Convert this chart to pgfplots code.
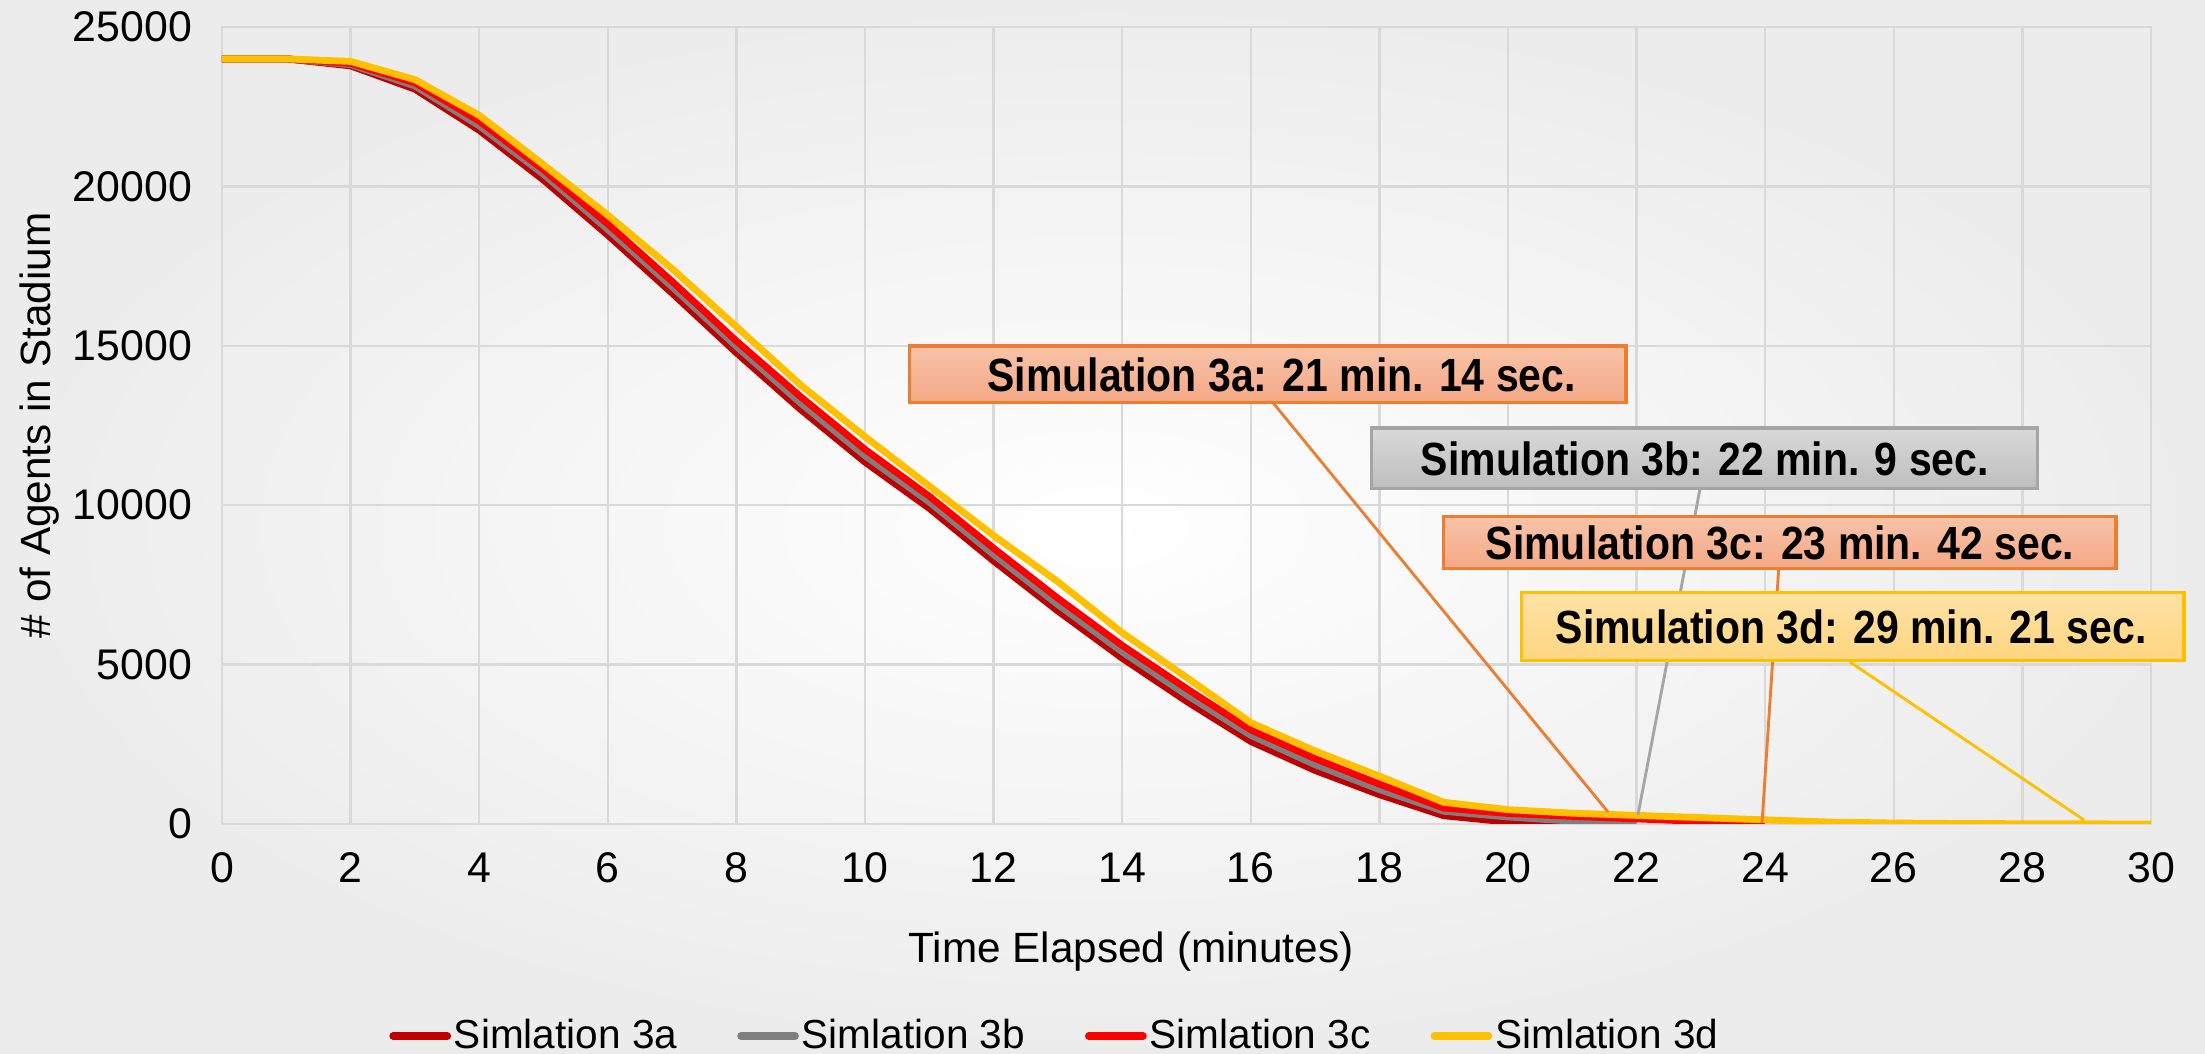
\documentclass[border=0pt]{standalone}
\usepackage{pgfplots}
\pgfplotsset{compat=1.18}
\usepackage{fontspec}
\setmainfont{Liberation Sans}
\newfontfamily\calloutfont[FakeStretch=0.88]{Liberation Sans}
\definecolor{sa}{HTML}{C00000}
\definecolor{sb}{HTML}{7F7F7F}
\definecolor{sc}{HTML}{FF0000}
\definecolor{sd}{HTML}{FFC000}
\definecolor{gridc}{HTML}{D9D9D9}
\definecolor{orng}{HTML}{ED7D31}
\definecolor{grayb}{HTML}{A5A5A5}
\definecolor{bgout}{HTML}{ECECEC}
\definecolor{orTop}{HTML}{F8C3A8}
\definecolor{orBot}{HTML}{F4A886}
\definecolor{grTop}{HTML}{D9D9D9}
\definecolor{grBot}{HTML}{BDBDBD}
\definecolor{yeTop}{HTML}{FFE2A6}
\definecolor{yeBot}{HTML}{FFD57F}
\begin{document}
\begin{tikzpicture}
\shade[inner color=white, outer color=bgout] (0,0) rectangle (771.75pt,368.9pt);
\useasboundingbox (0,0) rectangle (771.75pt,368.9pt);
\begin{axis}[
  at={(77.7pt,80.5pt)}, anchor=south west,
  scale only axis, width=675.15pt, height=278.95pt,
  xmin=0, xmax=30, ymin=0, ymax=25000,
  xtick={0,2,...,30}, ytick={0,5000,...,25000},
  grid=major, grid style={draw=gridc, line width=0.8pt},
  axis line style={draw=gridc, line width=0.8pt},
  major tick length=0pt,
  scaled y ticks=false,
  /pgf/number format/assume math mode=true,
  /pgf/number format/1000 sep={},
  yticklabel style={font=\fontsize{15}{17}\selectfont, xshift=-7pt},
  xticklabel style={font=\fontsize{15}{17}\selectfont, yshift=-6.5pt},
  legend columns=4,
  legend style={at={(axis description cs:0.432,-0.266)}, anchor=center,
    draw=none, fill=none, font=\fontsize{14.2}{16}\selectfont,
    nodes={inner xsep=1pt, font=\fontsize{14.2}{16}\selectfont},
    /tikz/every even column/.append style={column sep=20pt}},
  legend image code/.code={\draw[#1, line width=2.6pt, line cap=round] (0pt,0pt) -- (19pt,0pt);},
  every axis plot/.append style={line width=2.4pt, line join=round, mark=none},
]
\addplot[sa] coordinates {
(0,24000)(1,24000)(2,23780)(3,23050)(4,21760)(5,20200)(6,18470)(7,16650)
(8,14780)(9,13000)(10,11350)(11,9900)(12,8250)(13,6680)(14,5200)(15,3850)
(16,2590)(17,1680)(18,920)(19,260)(20,60)(21,0)};
\addlegendentry{Simlation 3a}
\addplot[sb] coordinates {
(0,24000)(1,24000)(2,23820)(3,23150)(4,21900)(5,20380)(6,18650)(7,16850)
(8,14980)(9,13200)(10,11550)(11,10100)(12,8450)(13,6880)(14,5400)(15,4050)
(16,2780)(17,1860)(18,1080)(19,400)(20,220)(21,90)(22,0)};
\addlegendentry{Simlation 3b}
\addplot[sc] coordinates {
(0,24000)(1,24000)(2,23860)(3,23250)(4,22050)(5,20520)(6,18820)(7,17020)
(8,15150)(9,13400)(10,11750)(11,10280)(12,8650)(13,7080)(14,5600)(15,4250)
(16,2950)(17,2050)(18,1250)(19,500)(20,330)(21,240)(22,160)(23,80)(24,0)};
\addlegendentry{Simlation 3c}
\addplot[sd] coordinates {
(0,24000)(1,24000)(2,23920)(3,23350)(4,22230)(5,20680)(6,19100)(7,17420)
(8,15600)(9,13770)(10,12150)(11,10600)(12,9050)(13,7600)(14,6000)(15,4600)
(16,3180)(17,2290)(18,1500)(19,680)(20,450)(21,340)(22,270)(23,200)(24,130)
(25,60)(26,30)(27,15)(28,8)(29,3)(30,0)};
\addlegendentry{Simlation 3d}
\end{axis}
% axis titles
\node[font=\fontsize{14.8}{17}\selectfont] at (395.8pt,35.7pt) {Time Elapsed (minutes)};
\node[rotate=90, font=\fontsize{14.8}{17}\selectfont] at (14pt,220pt) {\# of Agents in Stadium};
% leader lines
\draw[orng, line width=1pt] (444.2pt,229.6pt) -- (562.8pt,84.7pt);
\draw[grayb, line width=1pt] (595.0pt,197.8pt) -- (573.3pt,83.7pt);
\draw[orng, line width=1pt] (622.7pt,172.2pt) -- (616.7pt,80.9pt);
\draw[sd, line width=1pt] (647.5pt,137.2pt) -- (729.4pt,81.9pt);
% callout boxes
\path[draw=orng, line width=1.1pt, top color=orTop, bottom color=orBot] (318.2pt,227.9pt) rectangle (569.1pt,247.8pt);
\node[font=\calloutfont\bfseries\fontsize{16.3}{19}\selectfont] at (448.6pt,237.85pt) {Simulation 3a: 21 min. 14 sec.};
\path[draw=grayb, line width=1.1pt, top color=grTop, bottom color=grBot] (479.9pt,197.8pt) rectangle (713.0pt,219.1pt);
\node[font=\calloutfont\bfseries\fontsize{16.3}{19}\selectfont] at (596.7pt,208.45pt) {Simulation 3b: 22 min. 9 sec.};
\path[draw=orng, line width=1.1pt, top color=orTop, bottom color=orBot] (505.1pt,169.8pt) rectangle (740.6pt,188.0pt);
\node[font=\calloutfont\bfseries\fontsize{16.3}{19}\selectfont] at (623.0pt,178.9pt) {Simulation 3c: 23 min. 42 sec.};
\path[draw=sd, line width=1.1pt, top color=yeTop, bottom color=yeBot] (532.4pt,137.6pt) rectangle (764.4pt,161.4pt);
\node[font=\calloutfont\bfseries\fontsize{16.3}{19}\selectfont] at (647.9pt,149.5pt) {Simulation 3d: 29 min. 21 sec.};
\end{tikzpicture}
\end{document}
